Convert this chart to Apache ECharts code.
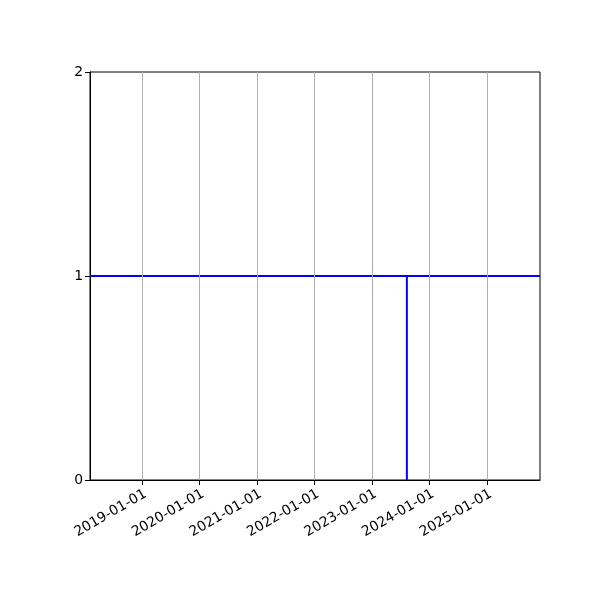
<!DOCTYPE html>
<html><head><meta charset="utf-8">
<script src="https://cdn.jsdelivr.net/npm/echarts@6/dist/echarts.min.js"></script>
<style>html,body{margin:0;padding:0;background:#fff}#c{width:600px;height:600px}</style>
</head><body><div id="c"></div>
<script>
const xMin = '2018-02-05';
const xMax = '2025-12-01';
const tickDates = ['2019-01-01','2020-01-01','2021-01-01','2022-01-01','2023-01-01','2024-01-01','2025-01-01'];
const yTicks = [0, 1, 2];
const levelLine = [['2018-02-05', 1], ['2025-12-01', 1]];
const eventLine = [['2023-08-09', 0], ['2023-08-09', 1]];

const ts = s => Date.parse(s + 'T00:00:00Z');
const tickTs = tickDates.map(ts);
const fmt = v => { const d = new Date(v); const p = n => String(n).padStart(2,'0'); return d.getUTCFullYear()+'-'+p(d.getUTCMonth()+1)+'-'+p(d.getUTCDate()); };
const toPts = arr => arr.map(p => [ts(p[0]), p[1]]);

const chart = echarts.init(document.getElementById('c'), null, {renderer:'canvas'});
chart.setOption({
  animation: false,
  backgroundColor: '#fff',
  grid: {left: 90, right: 60, top: 72, bottom: 120, show: true, borderColor: '#000', borderWidth: 1, backgroundColor: 'transparent'},
  xAxis: {
    type: 'value', min: ts(xMin), max: ts(xMax),
    axisLine: {show: true, lineStyle: {color: '#000', width: 1}},
    axisTick: {show: true, length: 5, lineStyle: {color: '#000'}, customValues: tickTs},
    axisLabel: {customValues: tickTs, formatter: fmt, rotate: 30, color: '#000', fontFamily: 'DejaVu Sans', fontSize: 13.9, margin: 7, align: 'right', verticalAlign: 'top'},
    splitLine: {show: false}
  },
  yAxis: {
    type: 'value', min: yTicks[0], max: yTicks[yTicks.length-1], interval: 1,
    axisLine: {show: true, lineStyle: {color: '#000', width: 1}},
    axisTick: {show: true, length: 5, lineStyle: {color: '#000'}},
    axisLabel: {color: '#000', fontFamily: 'DejaVu Sans', fontSize: 13.9, margin: 7},
    splitLine: {show: false}
  },
  series: [
    {
      type: 'line', data: [], silent: true,
      markLine: {silent: true, symbol: 'none', label: {show: false}, animation: false,
        lineStyle: {color: '#b0b0b0', width: 1, type: 'solid'},
        data: tickTs.map(t => ({xAxis: t}))}
    },
    {type: 'line', data: toPts(levelLine), showSymbol: false, symbol: 'none', lineStyle: {color: '#0000ff', width: 2}, z: 3},
    {type: 'line', data: toPts(eventLine), showSymbol: false, symbol: 'none', lineStyle: {color: '#0000ff', width: 2}, z: 3}
  ]
});
</script></body></html>
